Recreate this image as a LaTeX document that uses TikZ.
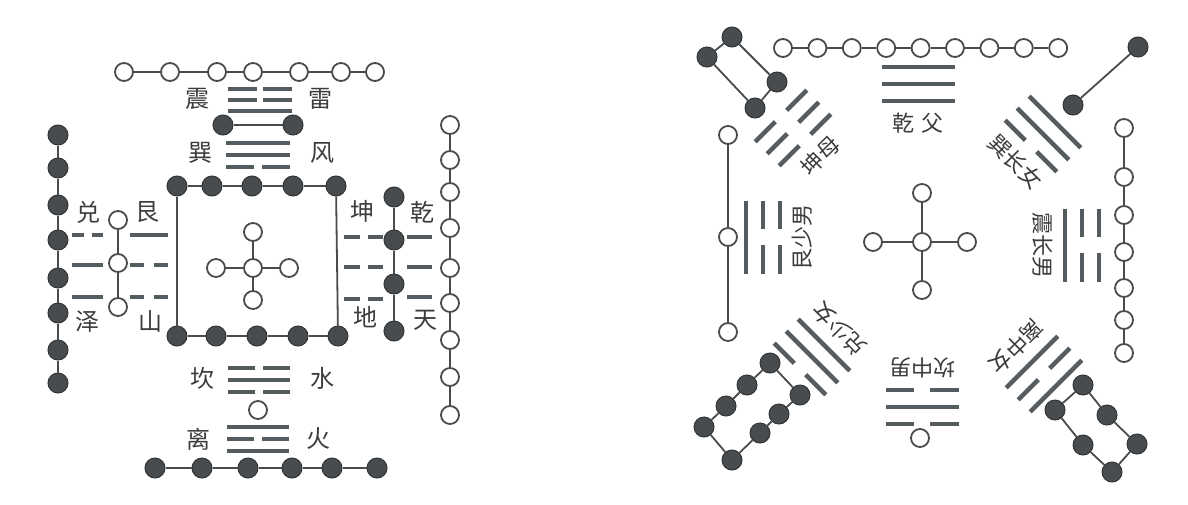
\documentclass[tikz,border=0pt]{standalone}
\usepackage{fontspec}
\newfontfamily\cjk{Noto Sans CJK SC}
\definecolor{ink}{RGB}{72,76,78}
\definecolor{barc}{RGB}{84,92,96}
\definecolor{txt}{RGB}{60,60,60}
\tikzset{
 wc/.style={circle,draw=ink,line width=1.8pt,fill=white,minimum size=18pt,inner sep=0pt},
 bc/.style={circle,draw=ink!70!black,line width=1pt,fill=ink,minimum size=20pt,inner sep=0pt},
 link/.style={draw=ink,line width=1.8pt},
 tbar/.style={draw=barc,line width=4pt},
 rbar/.style={draw=barc,line width=4.5pt},
 lab/.style={font=\cjk\fontsize{24}{24}\selectfont,text=txt,inner sep=0pt},
 rlab/.style={font=\cjk\fontsize{22}{22}\selectfont,text=txt,inner sep=0pt},
}
% style, code (1 yang / 0 yin), y, half length, half gap
\newcommand\tgline[5]{%
 \ifnum#2=1 \draw[#1] (-#4,#3) -- (#4,#3);%
 \else \draw[#1] (-#4,#3) -- (-#5,#3) (#5,#3) -- (#4,#3);\fi}
% x, y, angle, top, middle, bottom, name, text
\newcommand\trigroup[8]{%
 \begin{scope}[shift={(#1,#2)},rotate=#3]
  \tgline{rbar}{#4}{-17}{36.5}{8}
  \tgline{rbar}{#5}{0}{36.5}{8}
  \tgline{rbar}{#6}{17}{36.5}{8}
  \node[rlab,rotate=#3] (#7) at (0,39) {#8};
 \end{scope}}
\begin{document}
\begin{tikzpicture}[x=1pt,y=-1pt]
\useasboundingbox[fill=white] (0,0) rectangle (1188,504);
%================ LEFT DIAGRAM ================
\foreach \x [count=\i] in {124,170,217,253,299,341,375} \node[wc] (LT\i) at (\x,72) {};
\foreach \i [evaluate=\i as \j using int(\i+1)] in {1,...,6} \draw[link] (LT\i) -- (LT\j);
\begin{scope}[shift={(260,100)}]
 \tgline{tbar}{0}{-11}{32}{3}\tgline{tbar}{0}{0}{32}{3}\tgline{tbar}{1}{11}{32}{3}
\end{scope}
\node[lab] (zhen) at (197,99) {震};
\node[lab] (lei) at (320,99) {雷};
\node[bc] (P1) at (223,125) {};
\node[bc] (P2) at (293,125) {};
\draw[link] (P1) -- (P2);
\begin{scope}[shift={(258,155)}]
 \tgline{tbar}{1}{-12}{32}{4}\tgline{tbar}{1}{0}{32}{4}\tgline{tbar}{0}{12}{32}{4}
\end{scope}
\node[lab] (xun) at (200,153) {巽};
\node[lab] (feng) at (322,153) {风};
\foreach \x [count=\i] in {177,212,252,293,336} \node[bc] (ST\i) at (\x,186) {};
\foreach \x [count=\i] in {177,216,257,298,338} \node[bc] (SB\i) at (\x,336) {};
\foreach \i [evaluate=\i as \j using int(\i+1)] in {1,...,4} {\draw[link] (ST\i) -- (ST\j); \draw[link] (SB\i) -- (SB\j);}
\draw[link] (ST1) -- (SB1);
\draw[link] (ST5) -- (SB5);
\node[wc] (LC) at (253,268) {};
\node[wc] (LCt) at (253,232) {};
\node[wc] (LCb) at (253,300) {};
\node[wc] (LCl) at (216,268) {};
\node[wc] (LCr) at (289,268) {};
\draw[link] (LC) -- (LCt) (LC) -- (LCb) (LC) -- (LCl) (LC) -- (LCr);
\foreach \y [count=\i] in {135,168,205,240,278,313,350,383} \node[bc] (LL\i) at (58,\y) {};
\foreach \i [evaluate=\i as \j using int(\i+1)] in {1,...,7} \draw[link] (LL\i) -- (LL\j);
\foreach \y [count=\i] in {220,263,307} \node[wc] (LW\i) at (118,\y) {};
\draw[link] (LW1) -- (LW2);
\draw[link] (LW2) -- (LW3);
\begin{scope}[shift={(87.5,0)}]
 \tgline{tbar}{0}{235}{15.5}{4}\tgline{tbar}{1}{265}{15.5}{4}\tgline{tbar}{1}{297}{15.5}{4}
\end{scope}
\begin{scope}[shift={(149,0)}]
 \tgline{tbar}{1}{235}{19}{5}\tgline{tbar}{0}{265}{19}{5}\tgline{tbar}{0}{297}{19}{5}
\end{scope}
\node[lab] (dui) at (88,212) {兑};
\node[lab] (gen) at (147,212) {艮};
\node[lab] (ze) at (87,322) {泽};
\node[lab] (shan) at (150,321) {山};
\begin{scope}[shift={(363.5,0)}]
 \tgline{tbar}{0}{237}{19.5}{4}\tgline{tbar}{0}{267}{19.5}{4}\tgline{tbar}{0}{299}{19.5}{4}
\end{scope}
\begin{scope}[shift={(419.5,0)}]
 \tgline{tbar}{1}{237}{12.5}{4}\tgline{tbar}{1}{267}{12.5}{4}\tgline{tbar}{1}{297}{12.5}{4}
\end{scope}
\node[lab] (kun) at (362,211) {坤};
\node[lab] (qian) at (422,212) {乾};
\node[lab] (di) at (365,317) {地};
\node[lab] (tian) at (425,320) {天};
\foreach \y [count=\i] in {197,240,284,331} \node[bc] (LB\i) at (394,\y) {};
\foreach \i [evaluate=\i as \j using int(\i+1)] in {1,...,3} \draw[link] (LB\i) -- (LB\j);
\foreach \y [count=\i] in {125,160,192,228,268,303,340,377,415} \node[wc] (LR\i) at (450,\y) {};
\foreach \i [evaluate=\i as \j using int(\i+1)] in {1,...,8} \draw[link] (LR\i) -- (LR\j);
\begin{scope}[shift={(259,380)}]
 \tgline{tbar}{0}{-12}{31}{4}\tgline{tbar}{1}{0}{31}{4}\tgline{tbar}{0}{12}{31}{4}
\end{scope}
\node[lab] (kan) at (202,378) {坎};
\node[lab] (shui) at (322,378) {水};
\node[wc] (LO) at (258,410) {};
\begin{scope}[shift={(258,439)}]
 \tgline{tbar}{1}{-12}{31}{4}\tgline{tbar}{0}{0}{31}{4}\tgline{tbar}{1}{12}{31}{4}
\end{scope}
\node[lab] (li) at (198,439) {离};
\node[lab] (huo) at (318,439) {火};
\foreach \x [count=\i] in {155,202,248,292,332,377} \node[bc] (LD\i) at (\x,468) {};
\foreach \i [evaluate=\i as \j using int(\i+1)] in {1,...,5} \draw[link] (LD\i) -- (LD\j);
%================ RIGHT DIAGRAM ================
\foreach \i in {1,...,9} \node[wc] (RT\i) at ({783+34.4*(\i-1)},48) {};
\foreach \i [evaluate=\i as \j using int(\i+1)] in {1,...,8} \draw[link] (RT\i) -- (RT\j);
\node[bc] (RP1) at (1138,47) {};
\node[bc] (RP2) at (1073,105) {};
\draw[link] (RP1) -- (RP2);
\foreach \y [count=\i] in {128,177,215,252,288,320,353} \node[wc] (RR\i) at (1124,\y) {};
\foreach \i [evaluate=\i as \j using int(\i+1)] in {1,...,6} \draw[link] (RR\i) -- (RR\j);
\foreach \y [count=\i] in {135,237,332} \node[wc] (RL\i) at (728,\y) {};
\draw[link] (RL1) -- (RL2);
\draw[link] (RL2) -- (RL3);
\node[bc] (K1) at (732,37) {};
\node[bc] (K2) at (777,82) {};
\node[bc] (K3) at (755,108) {};
\node[bc] (K4) at (707,57) {};
\draw[link] (K1) -- (K2) (K2) -- (K3) (K3) -- (K4) (K4) -- (K1);
\foreach \p [count=\i] in {(770,363),(747,385),(726,406),(704,427),(732,460),(760,433),(779,414),(800,395)} \node[bc] (D\i) at \p {};
\foreach \i [evaluate=\i as \j using {int(mod(\i,8)+1)}] in {1,...,8} \draw[link] (D\i) -- (D\j);
\foreach \p [count=\i] in {(1083,385),(1107,415),(1137,444),(1112,472),(1083,445),(1055,410)} \node[bc] (L\i) at \p {};
\foreach \i [evaluate=\i as \j using {int(mod(\i,6)+1)}] in {1,...,6} \draw[link] (L\i) -- (L\j);
\node[wc] (RO) at (920,438) {};
\node[wc] (RC) at (922,242) {};
\node[wc] (RCt) at (922,193) {};
\node[wc] (RCb) at (922,290) {};
\node[wc] (RCl) at (873,242) {};
\node[wc] (RCr) at (967,242) {};
\draw[link] (RC) -- (RCt) (RC) -- (RCb) (RC) -- (RCl) (RC) -- (RCr);
\trigroup{918}{84}{0}{1}{1}{1}{tQian}{乾\hspace{7pt}父}
\trigroup{793}{128}{45}{0}{0}{0}{tKun}{坤母}
\trigroup{763}{237}{90}{1}{0}{0}{tGen}{艮少男}
\trigroup{812}{357}{135}{0}{1}{1}{tDui}{兑少女}
\trigroup{922}{407}{180}{0}{1}{0}{tKan}{坎中男}
\trigroup{1044}{374}{225}{1}{0}{1}{tLi}{离中女}
\trigroup{1082}{245}{270}{0}{0}{1}{tZhen}{震长男}
\trigroup{1043}{134}{315}{1}{1}{0}{tXun}{巽长女}
\end{tikzpicture}
\end{document}
